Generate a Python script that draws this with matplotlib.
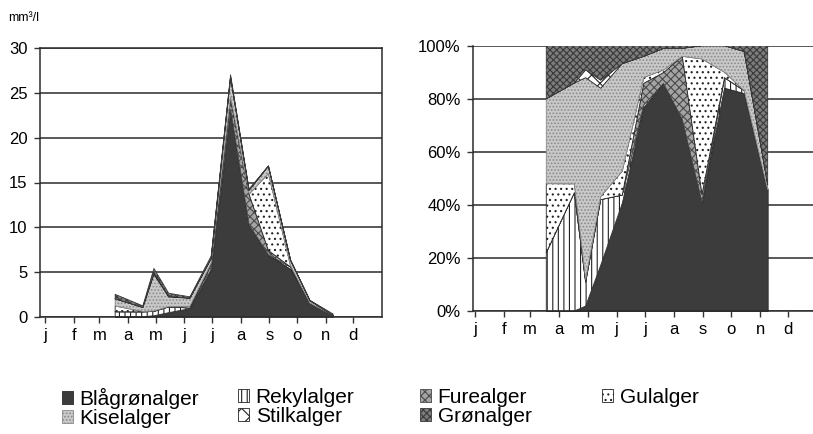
import numpy as np
import matplotlib
matplotlib.use("Agg")
import matplotlib.pyplot as plt
import matplotlib.patches as mpatches

plt.rcParams['font.family'] = ['Liberation Sans', 'DejaVu Sans']
plt.rcParams['hatch.linewidth'] = 0.8

# sampling days (day of year) and biovolume per algal group (mm3/l)
days = [76, 106, 118, 134, 157, 180, 201, 221, 242, 266, 287, 312]
blaagroen = [0, 0, 0.1, 0.45, 0.9, 5.2, 23.2, 10.3, 6.9, 5.3, 1.5, 0.14]
rekyl = [0.55, 0.54, 0.49, 0.65, 0.07, 0.07, 0, 0, 0, 0.25, 0.02, 0]
fure = [0, 0, 0, 0, 0, 0.55, 1.1, 3.4, 0.5, 0, 0, 0]
gul = [0.65, 0.04, 0.05, 0.03, 0.2, 0.15, 0.27, 0, 8.6, 0.13, 0, 0]
kisel = [0.8, 0.46, 4.1, 1.07, 0.9, 0.54, 2.2, 0.43, 0.84, 0.63, 0.27, 0.006]
stilk = [0, 0, 0.16, 0.08, 0, 0, 0, 0, 0, 0, 0, 0]
groen = [0.5, 0.17, 0.49, 0.34, 0.15, 0.27, 0.27, 0.14, 0, 0, 0.04, 0.16]

names = ['Blågrønalger', 'Rekylalger', 'Furealger', 'Gulalger',
         'Kiselalger', 'Stilkalger', 'Grønalger']
month_days = [0, 31, 59, 90, 120, 151, 181, 212, 243, 273, 304, 334]
month_labels = ['j', 'f', 'm', 'a', 'm', 'j', 'j', 'a', 's', 'o', 'n', 'd']

# fill, hatch colour, hatch pattern for each group
styles = [
    ('#3c3c3c', '#2a2a2a', None),
    ('white', '#222222', '|||'),
    ('#a4a4a4', '#4a4a4a', 'xxxx'),
    ('white', '#222222', '...'),
    ('#c9c9c9', '#8a8a8a', '.....'),
    ('white', '#222222', 'xx'),
    ('#7c7c7c', '#3a3a3a', 'xxxxx'),
]

data = np.array([blaagroen, rekyl, fure, gul, kisel, stilk, groen])
pct = data / data.sum(axis=0) * 100

fig = plt.figure(figsize=(8.13, 4.34), dpi=100)
ax1 = fig.add_axes([40 / 813, 1 - 316.7 / 434, 342 / 813, 268.4 / 434])
ax2 = fig.add_axes([473 / 813, 1 - 311 / 434, 340 / 813, 265.3 / 434])


def draw(ax, values):
    polys = ax.stackplot(days, values)
    for p, (fc, hc, h) in zip(polys, styles):
        p.set_facecolor(fc)
        p.set_edgecolor(hc)
        p.set_linewidth(0.6)
        if h:
            p.set_hatch(h)
    ax.set_axisbelow(True)
    ax.yaxis.grid(True, color='#2b2b2b', linewidth=1.1)
    ax.set_xticks(month_days)
    ax.set_xticklabels(month_labels)
    ax.tick_params(axis='both', direction='out', length=4, width=1,
                   color='#333333', labelsize=12, pad=5)
    ax.tick_params(axis='x', pad=4)


draw(ax1, data)
ax1.set_xlim(-5.4, 365)
ax1.set_ylim(0, 30)
ax1.set_yticks(range(0, 31, 5))
for s in ax1.spines.values():
    s.set_color('#2b2b2b')
    s.set_linewidth(1.1)

draw(ax2, pct)
ax2.set_xlim(-2.1, 360.3)
ax2.set_ylim(0, 100)
ax2.set_yticks(range(0, 101, 20))
ax2.set_yticklabels([f'{v}%' for v in range(0, 101, 20)])
ax2.spines['right'].set_visible(False)
ax2.spines['top'].set_visible(False)
for s in ('left', 'bottom'):
    ax2.spines[s].set_color('#2b2b2b')
    ax2.spines[s].set_linewidth(1.1)

fig.text(8 / 813, 1 - 18 / 434, 'mm³/l', fontsize=9, va='center', ha='left')

handles = [mpatches.Patch(facecolor=fc, edgecolor=hc, hatch=h, linewidth=0.6)
           for fc, hc, h in styles]
columns = [[0, 4], [1, 5], [2, 6], [3]]
col_x = [62 / 813, 238 / 813, 420 / 813, 602 / 813]
for cx, idx in zip(col_x, columns):
    fig.legend([handles[i] for i in idx], [names[i] for i in idx],
               loc='upper left', bbox_to_anchor=(cx, 1 - 388 / 434),
               frameon=False, fontsize=15, handlelength=0.55,
               handleheight=0.55, handletextpad=0.3, labelspacing=0.0,
               borderpad=0, borderaxespad=0)

fig.savefig('out.png', dpi=100)
